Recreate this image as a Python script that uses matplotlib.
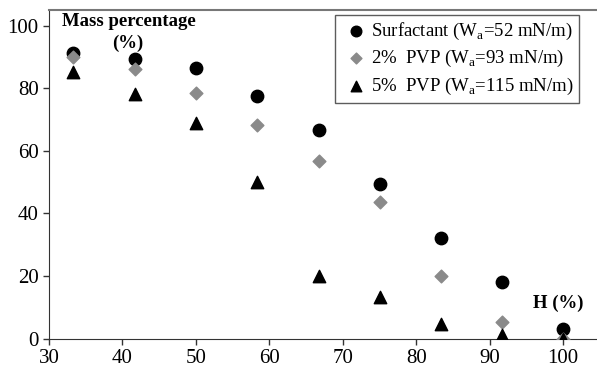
import matplotlib
matplotlib.use("Agg")
import matplotlib.pyplot as plt

# Heights H (%) and retained mass percentage for each coating
H = [33.3, 41.7, 50.0, 58.3, 66.7, 75.0, 83.3, 91.7, 100.0]
surfactant = [91.3, 89.3, 86.3, 77.5, 66.5, 49.5, 32.0, 18.0, 3.2]
pvp_2 = [89.8, 86.0, 78.6, 68.1, 56.6, 43.8, 20.0, 5.3, 0.0]
pvp_5 = [85.0, 78.0, 69.0, 50.0, 20.0, 13.2, 4.8, 1.2, 0.0]

LABELS = [
    "Surfactant (W$_\\mathregular{a}$=52 mN/m)",
    "2%  PVP (W$_\\mathregular{a}$=93 mN/m)",
    "5%  PVP (W$_\\mathregular{a}$=115 mN/m)",
]

plt.rcParams.update({
    "font.family": "Liberation Serif",
    "mathtext.fontset": "custom",
    "mathtext.rm": "Liberation Serif",
})

fig = plt.figure(figsize=(5.97, 3.72), dpi=100)
ax = fig.add_axes([0.082, 0.0895, 0.918, 0.884])

ax.scatter(H, surfactant, marker="o", s=80, color="black", zorder=3, label=LABELS[0])
ax.scatter(H, pvp_2, marker="D", s=42, color="#8a8a8a", zorder=3, label=LABELS[1])
ax.scatter(H, pvp_5, marker="^", s=80, color="black", zorder=4, label=LABELS[2])

ax.set_xlim(30, 104.6)
ax.set_ylim(0, 105)
ax.set_xticks(range(30, 101, 10))
ax.set_yticks(range(0, 101, 20))
ax.tick_params(labelsize=15, direction="out", length=4, width=1, color="#333333")

for side in ("left", "bottom"):
    ax.spines[side].set_color("#333333")
ax.spines["top"].set_color("#777777")
ax.spines["top"].set_linewidth(1.5)
ax.spines["right"].set_visible(False)

ax.text(62 / 597, 1 - 22 / 372, "Mass percentage", transform=fig.transFigure,
        fontsize=13.5, fontweight="bold", ha="left", va="center")
ax.text(128 / 597, 1 - 43 / 372, "(%)", transform=fig.transFigure,
        fontsize=13.5, fontweight="bold", ha="center", va="center")
ax.text(99.3, 11.4, "H (%)", fontsize=13.5, fontweight="bold", ha="center", va="center")

leg = ax.legend(loc="upper right", bbox_to_anchor=(579 / 597, 1 - 15 / 372),
                bbox_transform=fig.transFigure, fontsize=13.5,
                frameon=True, fancybox=False, edgecolor="#333333",
                handletextpad=0.0, handlelength=1.6, borderpad=0.3,
                labelspacing=0.35, borderaxespad=0.0, markerscale=0.85)
leg.get_frame().set_linewidth(1.0)

fig.savefig("out.png", dpi=100)
